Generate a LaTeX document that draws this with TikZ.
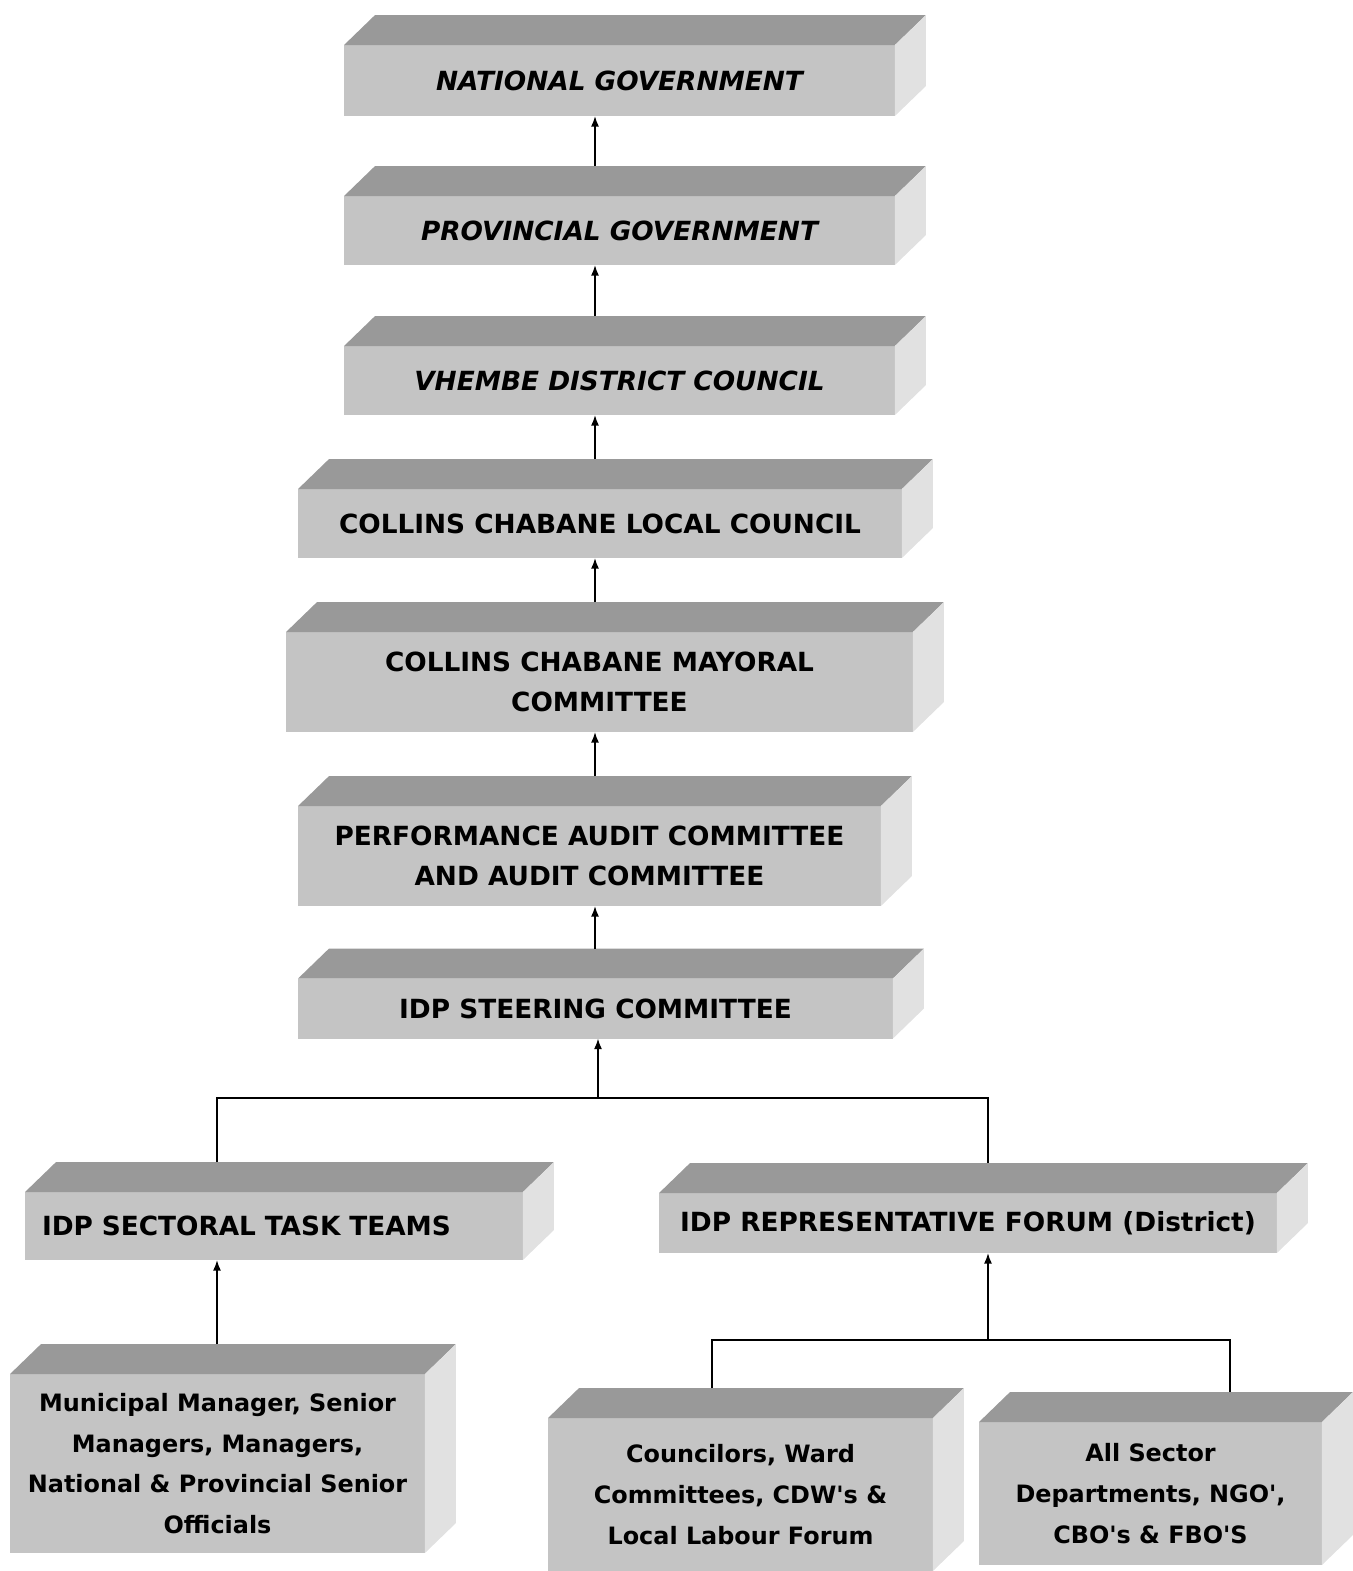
\documentclass[tikz,border=0pt]{standalone}
\usepackage{fontspec}
\setmainfont{DejaVu Sans}[Ligatures=TeXOff]
\usetikzlibrary{calc, arrows.meta}

\definecolor{frontgray}{HTML}{C4C4C4}
\definecolor{topgray}{HTML}{999999}
\definecolor{sidegray}{HTML}{E1E1E1}

\tikzset{
  level/.style={fill=frontgray, inner sep=0pt, outer sep=0pt, align=center,
    font=\bfseries\fontsize{15}{23}\selectfont},
  slanted/.style={font=\bfseries\itshape\fontsize{15}{23}\selectfont},
  mixed/.style={font=\bfseries\fontsize{13.6}{23.2}\selectfont},
  link/.style={line width=0.9pt},
}

\begin{document}
\begin{tikzpicture}[x=0.02cm, y=-0.02cm, >={Latex[length=6pt,width=4.5pt]}]
  \useasboundingbox (0,0) rectangle (1352,1571);

  % the chain of levels
  \node (nat) [level, slanted, minimum width=11.02cm, minimum height=1.42cm] at (619.5,80.5) {NATIONAL GOVERNMENT};
  \node (prov) [level, slanted, minimum width=11.02cm, minimum height=1.38cm] at (619.5,230.5) {PROVINCIAL GOVERNMENT};
  \node (vhe) [level, slanted, minimum width=11.02cm, minimum height=1.38cm] at (619.5,380.5) {VHEMBE DISTRICT COUNCIL};
  \node (loc) [level, minimum width=12.08cm, minimum height=1.38cm] at (600,523.5) {COLLINS CHABANE LOCAL COUNCIL};
  \node (may) [level, minimum width=12.54cm, minimum height=2.0cm] at (599.5,682) {COLLINS CHABANE MAYORAL\\COMMITTEE};
  \node (perf) [level, minimum width=11.66cm, minimum height=2.0cm] at (589.5,856) {PERFORMANCE AUDIT COMMITTEE\\AND AUDIT COMMITTEE};
  \node (steer) [level, minimum width=11.9cm, minimum height=1.2cm] at (595.5,1008.5) {IDP STEERING COMMITTEE};

  % the two branches
  \node (sect) [level, align=left, text width=9.28cm, inner xsep=0.34cm, minimum height=1.36cm] at (274,1226) {IDP SECTORAL TASK TEAMS};
  \node (rep) [level, minimum width=12.36cm, minimum height=1.2cm] at (968,1223) {IDP REPRESENTATIVE FORUM (District)};
  \node (mun) [level, mixed, minimum width=8.3cm, minimum height=3.58cm] at (217.5,1463.5) {Municipal Manager, Senior\\Managers, Managers,\\National \& Provincial Senior\\Officials};
  \node (cou) [level, mixed, minimum width=7.7cm, minimum height=3.06cm] at (740.5,1494.5) {Councilors, Ward\\Committees, CDW's \&\\Local Labour Forum};
  \node (all) [level, mixed, minimum width=6.86cm, minimum height=2.86cm] at (1150.5,1493.5) {All Sector\\Departments, NGO',\\CBO's \& FBO'S};

  % top and side faces
  \foreach \n in {nat,prov,vhe,loc,may,perf,steer,sect,rep,mun,cou,all} {
    \fill[topgray] (\n.north west) -- ++(31,-30) -- ([shift={(31,-30)}]\n.north east) -- (\n.north east) -- cycle;
    \fill[sidegray] (\n.north east) -- ++(31,-30) -- ([shift={(31,-30)}]\n.south east) -- (\n.south east) -- cycle;
    \coordinate (\n-top) at ([yshift=0.6cm]\n.north);
  }

  \coordinate (spine) at (595,0);
  \foreach \a/\b in {prov/nat, vhe/prov, loc/vhe, may/loc, perf/may, steer/perf}
    \draw[link,->] (\a-top -| spine) -- (\b.south -| spine);

  \coordinate (split) at (598,1098);
  \coordinate (leftdrop) at (217,1098);
  \coordinate (rightdrop) at (988,1098);
  \draw[link,->] (split) -- (steer.south -| split);
  \draw[link] (sect-top -| leftdrop) |- (split) -| (rep-top -| rightdrop);
  \draw[link,->] (mun-top -| leftdrop) -- (sect.south -| leftdrop);

  \coordinate (split2) at (988,1340);
  \coordinate (coudrop) at (712,1340);
  \coordinate (alldrop) at (1230,1340);
  \draw[link,->] (split2) -- (rep.south -| split2);
  \draw[link] (cou-top -| coudrop) |- (split2) -| (all-top -| alldrop);
\end{tikzpicture}
\end{document}
